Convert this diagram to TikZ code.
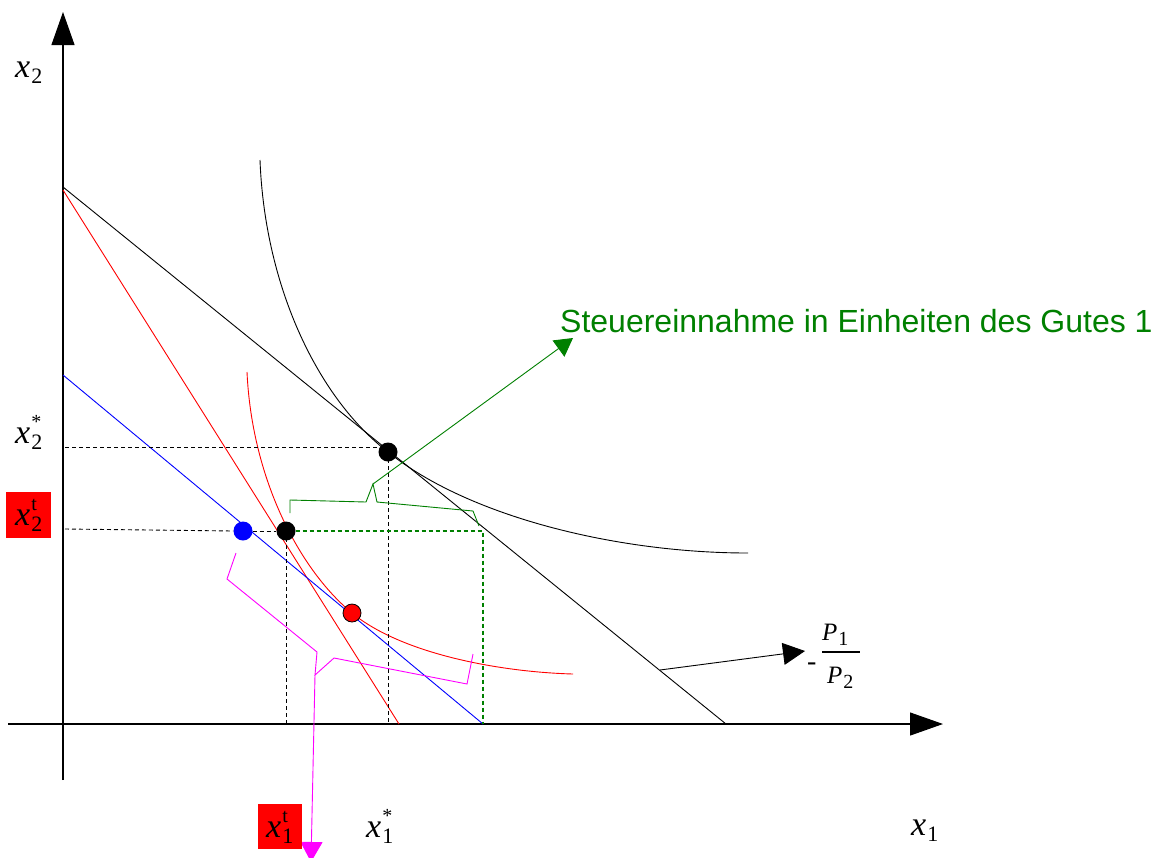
\documentclass[tikz,border=0pt]{standalone}
\usepackage{fontspec}
\setmainfont{Liberation Serif}
\newfontfamily\tmsf{Liberation Serif}
\newfontfamily\sansf{Liberation Sans}
\usetikzlibrary{arrows.meta}
\definecolor{grn}{RGB}{0,128,0}
\definecolor{mag}{RGB}{255,0,255}
\newcommand{\vlab}[2]{{\tmsf\fontsize{34}{34}\selectfont\itshape x}\kern1pt\rlap{\raisebox{15pt}{\tmsf\fontsize{20}{20}\selectfont #2}}\raisebox{-6pt}{\tmsf\fontsize{22}{22}\selectfont #1}}
\newcommand{\plab}[1]{{\tmsf\fontsize{25}{25}\selectfont\itshape P}\kern1pt\raisebox{-5pt}{\tmsf\fontsize{20}{20}\selectfont #1}}
\begin{document}
\begin{tikzpicture}[x=1pt,y=-1pt,
  thinl/.style={line width=0.9pt},
  axisl/.style={line width=1.1pt},
  dsh/.style={line width=0.9pt,dash pattern=on 4pt off 3pt},
  gdsh/.style={line width=1.1pt,dash pattern=on 4pt off 3pt,color=grn},
  dotb/.style={circle,fill=black,inner sep=0pt,minimum size=19pt},
  lab/.style={inner sep=0pt,anchor=base west},
  redbox/.style={fill=red,inner sep=0pt},
  bigtip/.style={-{Triangle[length=33pt,width=23pt]}},
]
\clip (0,0) rectangle (1158,857);
\fill[white] (0,0) rectangle (1158,857);

% axes
\coordinate (O1) at (63,780);
\coordinate (T1) at (63,12);
\coordinate (O2) at (8,724);
\coordinate (T2) at (943,724);
\draw[axisl,bigtip] (O1) -- (T1);
\draw[axisl,bigtip] (O2) -- (T2);

% budget lines
\coordinate (A) at (63,187);
\coordinate (B) at (726,724);
\coordinate (A2) at (63,190);
\coordinate (R2) at (399,724);
\coordinate (C1) at (63,375);
\coordinate (C2) at (483,724);
\draw[thinl] (A) -- (B);
\draw[thinl,red] (A2) -- (R2);
\draw[thinl,blue] (C1) -- (C2);

% indifference curves
\draw[thinl] (260,160) .. controls (265,290) and (320,400) .. (388,452)
  .. controls (470,518) and (620,553) .. (748,553);
\draw[thinl,red] (247,372) .. controls (252,480) and (300,570) .. (352,613)
  .. controls (402,654) and (500,672) .. (573,674);

% dots
\node[dotb] (E) at (388,452) {};
\node[dotb] (F) at (286,531) {};
\node[dotb,fill=blue] (G) at (243,531) {};
\node[dotb,fill=red,draw=black,line width=0.8pt,minimum size=18pt] (H) at (352,613) {};

% dashed guides
\coordinate (ya) at (65,447);
\coordinate (yb) at (65,529);
\coordinate (xa) at (388,724);
\coordinate (xb) at (286,724);
\coordinate (gc) at (483,531);
\coordinate (gd) at (483,724);
\draw[dsh] (ya) -- (ya -| E.center);
\draw[dsh] (E.center) -- (xa);
\draw[dsh] (yb) -- (G.west);
\draw[dsh] (G.east) -- (F.west);
\draw[dsh] (F.center) -- (xb);
\draw[gdsh] (F.east) -- (gc) -- (gd);

% green bracket and arrow
\coordinate (gp) at (373,484);
\coordinate (gt) at (573,338);
\draw[thinl,grn] (290,513) -- (290,500) -- (366,502) -- (gp) -- (377,502) -- (473,511) -- (479,526);
\draw[thinl,grn,-{Triangle[length=18pt,width=20pt]}] (gp) -- (gt);
\node[lab,text=grn] (txt) at (560,332) {\sansf\fontsize{32}{32}\selectfont Steuereinnahme in Einheiten des Gutes 1};

% magenta bracket and arrow
\coordinate (mp) at (315,675);
\coordinate (mt) at (311,862);
\draw[thinl,mag] (236,553) -- (227,579) -- (317,652) -- (mp) -- (334,658) -- (467,684) -- (473,654);
\draw[thinl,mag,-{Triangle[length=20pt,width=22pt]}] (mp) -- (mt);

% price ratio arrow
\coordinate (pb) at (660,670);
\coordinate (pt) at (805,651);
\draw[thinl,-{Triangle[length=22pt,width=22pt]}] (pb) -- (pt);
\node[lab] (minus) at (807,670) {\tmsf\fontsize{28}{28}\selectfont -};
\node[lab] (P1) at (822,640) {\plab{1}};
\node[lab] (P2) at (827,683) {\plab{2}};
\draw[line width=1.3pt] (822,652) -- (860,652);

% labels
\node[redbox,minimum width=45pt,minimum height=46pt] (rb2) at (28.5,515) {};
\node[redbox,minimum width=44pt,minimum height=45pt] (rb1) at (280,826.5) {};
\node[lab] (lx2) at (15,77) {\vlab{2}{}};
\node[lab] (lx2s) at (15,443) {\vlab{2}{*}};
\node[lab] (lx2t) at (15,525) {\vlab{2}{t}};
\node[lab] (lx1t) at (266,837) {\vlab{1}{t}};
\node[lab] (lx1s) at (366,837) {\vlab{1}{*}};
\node[lab] (lx1) at (911,835) {\vlab{1}{}};
\end{tikzpicture}
\end{document}
